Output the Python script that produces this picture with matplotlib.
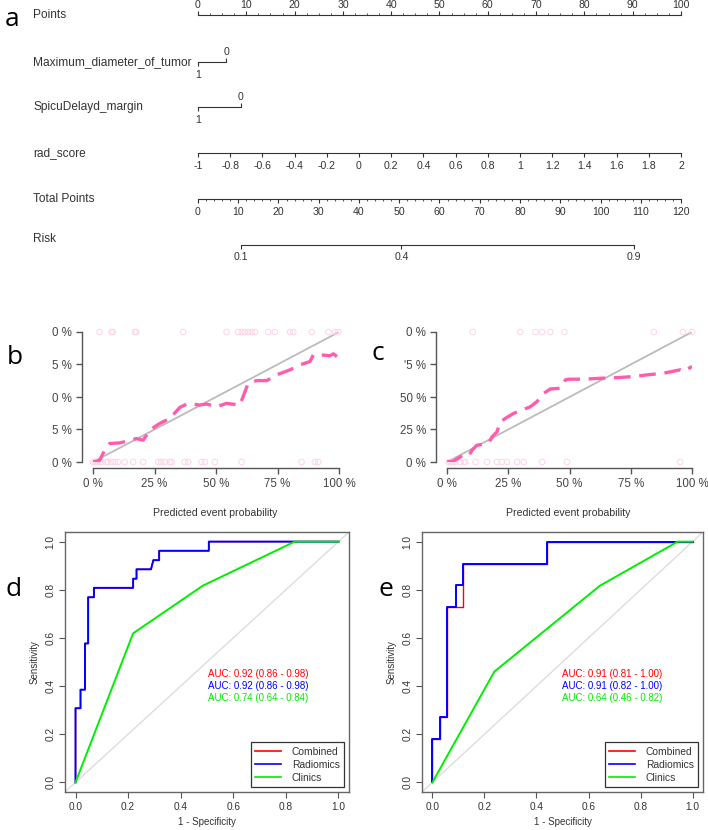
import numpy as np
import matplotlib.pyplot as plt

plt.rcParams['font.family'] = ['Liberation Sans', 'DejaVu Sans']

W, H = 708, 830

# ---------------- panel a: nomogram ----------------
points_ticks = list(range(0, 101, 10))
max_diam_levels = ['1', '0']
max_diam_points = [0, 5.8]
margin_levels = ['1', '0']
margin_points = [0, 8.9]
rad_score_ticks = [-1, -0.8, -0.6, -0.4, -0.2, 0, 0.2, 0.4, 0.6, 0.8, 1, 1.2, 1.4, 1.6, 1.8, 2]
rad_score_labels = ['-1', '-0.8', '-0.6', '-0.4', '-0.2', '0', '0.2', '0.4', '0.6', '0.8', '1',
                    '1.2', '1.4', '1.6', '1.8', '2']
total_ticks = list(range(0, 121, 10))
total_max = 120
risk_ticks = [0.1, 0.4, 0.9]
risk_intercept = -2.68    # logit of risk at 0 total points
risk_slope = 0.045        # logit per total point

# ---------------- panels b, c: calibration ----------------
cal_b_x = [0, 0.027, 0.047, 0.068, 0.109, 0.142, 0.176, 0.204, 0.231, 0.271, 0.312, 0.353, 0.387,
           0.434, 0.461, 0.502, 0.543, 0.597, 0.631, 0.665, 0.706, 0.746, 0.801, 0.841, 0.882,
           0.896, 0.923, 0.963, 0.977, 1.0]
cal_b_y = [0, 0.013, 0.090, 0.142, 0.147, 0.162, 0.180, 0.168, 0.245, 0.296, 0.335, 0.420, 0.451,
           0.438, 0.446, 0.425, 0.451, 0.438, 0.606, 0.626, 0.626, 0.670, 0.709, 0.747, 0.773,
           0.825, 0.825, 0.817, 0.832, 0.799]
rug_b_top = [0.027, 0.075, 0.081, 0.170, 0.176, 0.366, 0.543, 0.590, 0.604, 0.617, 0.631, 0.645,
             0.658, 0.712, 0.739, 0.801, 0.814, 0.889, 0.957, 0.984, 0.997]
rug_b_bottom = [0.0, 0.007, 0.014, 0.020, 0.027, 0.034, 0.054, 0.061, 0.075, 0.088, 0.102, 0.129,
                0.163, 0.204, 0.265, 0.278, 0.292, 0.312, 0.319, 0.373, 0.387, 0.441, 0.455,
                0.495, 0.604, 0.848, 0.902, 0.916]

cal_c_x = [0, 0.027, 0.054, 0.068, 0.088, 0.102, 0.122, 0.150, 0.170, 0.184, 0.204, 0.218, 0.238,
           0.272, 0.299, 0.340, 0.367, 0.395, 0.422, 0.463, 0.483, 0.497, 0.558, 0.626, 0.694,
           0.762, 0.816, 0.884, 0.952, 0.966, 1.0]
cal_c_y = [0, 0.008, 0.039, 0.052, 0.046, 0.090, 0.129, 0.137, 0.147, 0.193, 0.232, 0.309, 0.335,
           0.374, 0.394, 0.425, 0.464, 0.528, 0.562, 0.567, 0.631, 0.637, 0.637, 0.644, 0.649,
           0.657, 0.670, 0.683, 0.709, 0.696, 0.735]
rug_c_top = [0.105, 0.299, 0.361, 0.388, 0.422, 0.479, 0.844, 0.963, 1.0]
rug_c_bottom = [0.007, 0.014, 0.020, 0.027, 0.034, 0.054, 0.068, 0.075, 0.116, 0.163, 0.204,
                0.224, 0.245, 0.286, 0.313, 0.388, 0.490, 0.952]

cal_ticks = [0, 0.25, 0.5, 0.75, 1]
cal_xlabels = ['0 %', '25 %', '50 %', '75 %', '100 %']
cal_b_ylabels = ['0 %', '5 %', '0 %', '5 %', '0 %']
cal_c_ylabels = ['0 %', '25 %', '50 %', "'5 %", '0 %']

# ---------------- panels d, e: ROC ----------------
d_radiomics_fpr = [0, 0, 0.019, 0.019, 0.036, 0.036, 0.048, 0.048, 0.070, 0.070, 0.219, 0.219,
                   0.232, 0.232, 0.287, 0.296, 0.318, 0.318, 0.507, 0.507, 1.0]
d_radiomics_tpr = [0, 0.308, 0.308, 0.385, 0.385, 0.577, 0.577, 0.769, 0.769, 0.808, 0.808, 0.846,
                   0.846, 0.885, 0.885, 0.923, 0.923, 0.962, 0.962, 1.0, 1.0]
d_combined_fpr = d_radiomics_fpr
d_combined_tpr = d_radiomics_tpr
d_clinics_fpr = [0, 0.219, 0.484, 0.834, 1.0]
d_clinics_tpr = [0, 0.619, 0.817, 1.0, 1.0]
d_auc = ['AUC: 0.92 (0.86 - 0.98)', 'AUC: 0.92 (0.86 - 0.98)', 'AUC: 0.74 (0.64 - 0.84)']

e_combined_fpr = [0, 0, 0.028, 0.028, 0.057, 0.057, 0.119, 0.119, 0.441, 0.441, 1.0]
e_combined_tpr = [0, 0.182, 0.182, 0.273, 0.273, 0.727, 0.727, 0.909, 0.909, 1.0, 1.0]
e_radiomics_fpr = [0, 0, 0.028, 0.028, 0.057, 0.057, 0.089, 0.089, 0.119, 0.119, 0.441, 0.441, 1.0]
e_radiomics_tpr = [0, 0.182, 0.182, 0.273, 0.273, 0.727, 0.727, 0.818, 0.818, 0.909, 0.909, 1.0, 1.0]
e_clinics_fpr = [0, 0.238, 0.644, 0.943, 1.0]
e_clinics_tpr = [0, 0.46, 0.817, 1.0, 1.0]
e_auc = ['AUC: 0.91 (0.81 - 1.00)', 'AUC: 0.91 (0.82 - 1.00)', 'AUC: 0.64 (0.46 - 0.82)']

model_names = ['Combined', 'Radiomics', 'Clinics']
model_colors = ['#FF0000', '#0000FF', '#00EE00']
model_widths = [1.0, 1.4, 1.4]


def px_box(l, t, r, b):
    return [l / W, 1 - b / H, (r - l) / W, (b - t) / H]


def ftext(x, y, s, **kw):
    fig.text(x / W, 1 - y / H, s, **kw)


fig = plt.figure(figsize=(W / 100, H / 100), dpi=100)

# ---- nomogram ----
ax = fig.add_axes(px_box(198, 0, 681, 270))
ax.set_xlim(0, 100)
ax.set_ylim(270, 0)
ax.axis('off')
lc = '#333333'
tfs = 7.6
lfs = 8.6
lab_x = 33

def nom_line(x0, x1, y):
    ax.plot([x0, x1], [y, y], color=lc, lw=0.8, clip_on=False)

def nom_ticks(xs, y, length, lw=0.8):
    ax.vlines(xs, y, y + length, color=lc, lw=lw, clip_on=False)

# Points
y = 15
nom_line(0, 100, y)
nom_ticks(points_ticks, y, -4)
nom_ticks(np.arange(0, 101, 2.5), y, -2, lw=0.6)
for v in points_ticks:
    ax.text(v, y - 10, str(v), ha='center', va='center', fontsize=tfs, color=lc)
ftext(lab_x, y, 'Points', fontsize=lfs, va='center', color=lc)

# binary predictors
for name, levels, pts, y in [('Maximum_diameter_of_tumor', max_diam_levels, max_diam_points, 62),
                             ('SpicuDelayd_margin', margin_levels, margin_points, 107)]:
    nom_line(pts[0], pts[1], y)
    nom_ticks([pts[0]], y, 4)
    nom_ticks([pts[1]], y, -4)
    ax.text(pts[0], y + 13, levels[0], ha='center', va='center', fontsize=tfs, color=lc)
    ax.text(pts[1], y - 10, levels[1], ha='center', va='center', fontsize=tfs, color=lc)
    ftext(lab_x, y, name, fontsize=lfs, va='center', color=lc)

# rad_score
y = 153
rs_pts = [(v - rad_score_ticks[0]) / (rad_score_ticks[-1] - rad_score_ticks[0]) * 100
          for v in rad_score_ticks]
nom_line(0, 100, y)
nom_ticks(rs_pts, y, 4)
for p, s in zip(rs_pts, rad_score_labels):
    ax.text(p, y + 13, s, ha='center', va='center', fontsize=tfs, color=lc)
ftext(lab_x, y, 'rad_score', fontsize=lfs, va='center', color=lc)

# Total points
y = 199
scale = 100 / total_max
nom_line(0, 100, y)
nom_ticks([t * scale for t in total_ticks], y, 4)
nom_ticks(np.arange(0, total_max + 1, 2) * scale, y, 2.5, lw=0.6)
for t in total_ticks:
    ax.text(t * scale, y + 13, str(t), ha='center', va='center', fontsize=tfs, color=lc)
ftext(lab_x, y, 'Total Points', fontsize=lfs, va='center', color=lc)

# Risk
y = 245
risk_pts = [(np.log(p / (1 - p)) - risk_intercept) / risk_slope * scale for p in risk_ticks]
nom_line(risk_pts[0], risk_pts[-1], y)
nom_ticks(risk_pts, y, 4)
for p, r in zip(risk_pts, risk_ticks):
    ax.text(p, y + 12, str(r), ha='center', va='center', fontsize=tfs, color=lc)
ftext(lab_x, y - 6, 'Risk', fontsize=lfs, va='center', color=lc)

# ---- calibration panels ----
pink = '#FF5CAD'
rug = '#FFD3E4'
axc = '#555555'

def calib(box, cx, cy, top, bottom, ylabels, xlabel_x):
    a = fig.add_axes(px_box(*box))
    a.set_xlim(0, 1)
    a.set_ylim(0, 1)
    a.plot([0, 1], [0, 1], color='#BBBBBB', lw=1.3)
    a.scatter(top, [1] * len(top), s=16, facecolors='none', edgecolors=rug,
              linewidths=0.7, clip_on=False, zorder=3)
    a.scatter(bottom, [0] * len(bottom), s=16, facecolors='none', edgecolors=rug,
              linewidths=0.7, clip_on=False, zorder=3)
    a.plot(cx, cy, color=pink, lw=2.4, dashes=(5, 2.6), zorder=4)
    for s in ['top', 'right']:
        a.spines[s].set_visible(False)
    a.spines['left'].set_position(('outward', 8))
    a.spines['bottom'].set_position(('outward', 4.5))
    a.spines['left'].set_bounds(0, 1)
    a.spines['bottom'].set_bounds(0, 1)
    for s in ['left', 'bottom']:
        a.spines[s].set_color(axc)
        a.spines[s].set_linewidth(1.0)
    a.set_xticks(cal_ticks, cal_xlabels)
    a.set_yticks(cal_ticks, ylabels)
    a.tick_params(length=4, width=1.0, color=axc, labelcolor='#444444', labelsize=8.3, pad=3)
    ftext(xlabel_x, 513, 'Predicted event probability', fontsize=7.6, ha='center', va='center',
          color='#333333')
    return a

calib((93, 332, 339, 462), cal_b_x, cal_b_y, rug_b_top, rug_b_bottom, cal_b_ylabels, 215)
calib((447, 332, 692, 462), cal_c_x, cal_c_y, rug_c_top, rug_c_bottom, cal_c_ylabels, 568)

# ---- ROC panels ----
def roc(box, curves, auc_texts, auc_x):
    a = fig.add_axes(px_box(*box))
    a.set_xlim(-0.04, 1.04)
    a.set_ylim(-0.04, 1.04)
    a.axline((0, 0), (1, 1), color='#DDDDDD', lw=1.0, zorder=1)
    for (fx, ty), c, n, w in zip(curves, model_colors, model_names, model_widths):
        a.plot(fx, ty, color=c, lw=w, label=n, zorder=2)
    for i, (t, c) in enumerate(zip(auc_texts, model_colors)):
        a.text(auc_x, 0.45 - i * 0.05, t, color=c, fontsize=7, ha='left', va='center')
    ticks = [0, 0.2, 0.4, 0.6, 0.8, 1.0]
    a.set_xticks(ticks, ['0.0', '0.2', '0.4', '0.6', '0.8', '1.0'])
    a.set_yticks(ticks, ['0.0', '0.2', '0.4', '0.6', '0.8', '1.0'])
    for lbl in a.get_yticklabels():
        lbl.set_rotation(90)
        lbl.set_va('center')
    a.tick_params(length=4, width=0.8, color=axc, labelcolor='#333333', labelsize=7.3, pad=3)
    for s in a.spines.values():
        s.set_color('#666666')
        s.set_linewidth(1.0)
    a.set_xlabel('1 - Specificity', fontsize=7, color='#333333', labelpad=4)
    a.set_ylabel('Sensitivity', fontsize=7, color='#333333', labelpad=4)
    leg = a.legend(loc='lower right', fontsize=7.4, frameon=True, fancybox=False,
                   edgecolor='#333333', framealpha=1, handlelength=2.6, labelspacing=0.3,
                   borderaxespad=0.5, handletextpad=1.0)
    leg.get_frame().set_linewidth(0.9)
    for line in leg.get_lines():
        line.set_linewidth(1.2)
    for t in leg.get_texts():
        t.set_color('#333333')
    return a

roc((65, 532, 349, 792),
    [(d_combined_fpr, d_combined_tpr), (d_radiomics_fpr, d_radiomics_tpr),
     (d_clinics_fpr, d_clinics_tpr)], d_auc, 0.505)
roc((422, 532, 703, 792),
    [(e_combined_fpr, e_combined_tpr), (e_radiomics_fpr, e_radiomics_tpr),
     (e_clinics_fpr, e_clinics_tpr)], e_auc, 0.50)

# panel letters
for s, x, y in [('a', 12, 20), ('b', 15, 357), ('c', 378, 353), ('d', 14, 590), ('e', 386, 590)]:
    ftext(x, y, s, fontsize=19, ha='center', va='center', color='black', family='Open Sans')

fig.savefig('out.png', dpi=100)
